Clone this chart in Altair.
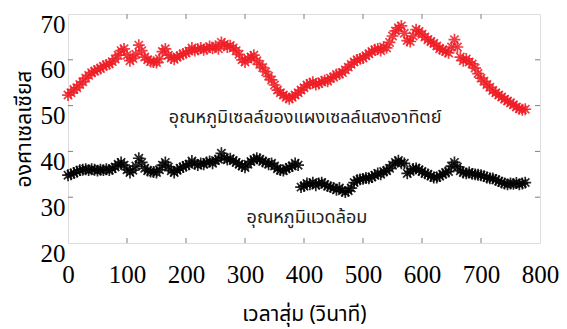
import altair as alt
import pandas as pd

# sample times (seconds)
times = [
    0, 5, 10, 15, 20, 25, 30, 35, 40, 45,
    50, 55, 60, 65, 70, 75, 80, 85, 90, 95,
    100, 105, 110, 115, 120, 125, 130, 135, 140, 145,
    150, 155, 160, 165, 170, 175, 180, 185, 190, 195,
    200, 205, 210, 215, 220, 225, 230, 235, 240, 245,
    250, 255, 260, 265, 270, 275, 280, 285, 290, 295,
    300, 305, 310, 315, 320, 325, 330, 335, 340, 345,
    350, 355, 360, 365, 370, 375, 380, 385, 390, 395,
    400, 405, 410, 415, 420, 425, 430, 435, 440, 445,
    450, 455, 460, 465, 470, 475, 480, 485, 490, 495,
    500, 505, 510, 515, 520, 525, 530, 535, 540, 545,
    550, 555, 560, 565, 570, 575, 580, 585, 590, 595,
    600, 605, 610, 615, 620, 625, 630, 635, 640, 645,
    650, 655, 660, 665, 670, 675, 680, 685, 690, 695,
    700, 705, 710, 715, 720, 725, 730, 735, 740, 745,
    750, 755, 760, 765, 770, 775,
]

# solar cell temperature (red)
cell_temp = [
    52.3, 52.8, 53.5, 53.9, 54.6, 55.2, 56.0, 56.6, 57.2, 57.5,
    57.9, 58.1, 58.6, 58.9, 59.1, 59.6, 60.2, 61.0, 62.0, 62.4,
    61.0, 59.8, 60.3, 61.2, 63.2, 62.0, 60.6, 60.0, 59.6, 59.5,
    59.4, 60.2, 61.8, 62.4, 61.0, 60.4, 60.1, 60.6, 60.9, 61.3,
    61.5, 61.9, 62.6, 62.0, 62.3, 62.6, 62.2, 62.4, 62.9, 62.5,
    63.0, 62.4, 63.8, 63.4, 62.8, 63.1, 62.6, 62.0, 61.2, 60.0,
    59.5, 60.2, 60.6, 61.0, 59.8, 59.0, 58.3, 57.4, 56.4, 55.6,
    54.5, 53.4, 52.8, 52.3, 51.8, 51.5, 51.8, 52.3, 52.8, 53.4,
    53.9, 54.5, 54.8, 55.1, 54.6, 54.8, 55.2, 55.5, 55.3, 56.0,
    56.2, 56.8, 56.9, 57.2, 57.8, 58.4, 59.0, 59.5, 60.0, 60.2,
    60.4, 60.9, 61.3, 61.8, 62.2, 62.4, 62.0, 62.8, 62.6, 63.8,
    65.2, 66.3, 67.0, 67.4, 65.8, 64.2, 64.0, 65.2, 66.6, 66.2,
    65.6, 65.0, 64.4, 64.0, 63.6, 63.0, 62.4, 62.2, 61.8, 61.5,
    62.8, 64.4, 62.8, 60.6, 59.8, 60.2, 59.5, 59.1, 58.2, 57.0,
    56.0, 55.3, 54.6, 54.0, 53.3, 52.8, 52.3, 51.9, 51.4, 51.0,
    50.6, 50.2, 49.7, 49.3, 49.1, 49.2,
]

# ambient temperature (black)
ambient_temp = [
    34.8, 35.0, 35.3, 35.6, 35.9, 36.0, 36.1, 35.9, 36.1, 36.0,
    35.8, 36.0, 35.9, 36.1, 35.9, 36.2, 36.6, 37.2, 37.6, 37.0,
    36.0, 35.4, 35.9, 36.8, 38.5, 37.6, 36.3, 35.8, 35.6, 35.5,
    35.4, 36.0, 37.0, 37.6, 36.6, 35.8, 35.4, 35.9, 36.3, 36.6,
    36.9, 37.2, 37.9, 37.3, 37.0, 37.4, 37.2, 37.6, 37.8, 37.4,
    38.0, 38.3, 39.6, 38.6, 38.2, 38.4, 38.0, 37.6, 37.2, 36.8,
    36.5, 37.2, 37.8, 38.2, 38.5, 38.3, 37.8, 37.6, 37.2, 37.4,
    36.8, 36.2, 35.9, 35.8, 36.2, 36.5, 36.8, 37.4, 37.0, 32.2,
    32.4, 33.0, 32.8, 33.2, 32.6, 33.0, 33.2, 32.8, 32.4, 32.2,
    32.0, 31.6, 32.0, 31.4, 31.1, 31.4, 32.0, 33.2, 33.7, 33.9,
    34.0, 34.2, 34.1, 34.4, 34.8, 35.2, 35.0, 35.6, 35.8, 36.3,
    37.0, 37.6, 38.0, 37.4, 37.4, 35.2, 35.6, 36.2, 36.3, 36.0,
    35.6, 35.2, 35.0, 34.6, 34.3, 34.3, 34.6, 35.0, 35.4, 35.6,
    36.8, 37.6, 36.6, 35.8, 35.4, 35.2, 35.4, 35.1, 35.0, 34.9,
    34.8, 34.6, 34.3, 34.1, 34.1, 33.8, 33.5, 33.2, 33.0, 32.8,
    33.0, 32.9, 33.1, 32.8, 33.0, 33.2,
]

assert len(times) == len(cell_temp) == len(ambient_temp)

x_ticks = [0, 100, 200, 300, 400, 500, 600, 700, 800]
y_ticks = [20, 30, 40, 50, 60, 70]

label_texts = ["อุณหภูมิเซลล์ของแผงเซลล์แสงอาทิตย์", "อุณหภูมิแวดล้อม"]
label_x = [402, 405]
label_y = [47.2, 25.4]

x_title = "เวลาสุ่ม (วินาที)"
y_title = "องศาเซลเซียส"

thai_font = "Noto Sans Thai, Noto Serif Thai, Loma, Garuda, Noto Sans, DejaVu Sans"
num_font = "Liberation Serif, DejaVu Serif, Noto Serif, Times, serif"

asterisk = "M-1,0L1,0M0,-1L0,1M-0.7,-0.7L0.7,0.7M-0.7,0.7L0.7,-0.7"

df = pd.DataFrame({"t": times, "cell": cell_temp, "amb": ambient_temp})
lab = pd.DataFrame({"text": label_texts, "x": label_x, "y": label_y})

xs = alt.Scale(domain=[0, 800], nice=False)
ys = alt.Scale(domain=[20, 70], nice=False)

x_axis = alt.Axis(values=x_ticks, title=x_title, labelFont=num_font, labelFontSize=25,
                  labelColor="black", labelPadding=19, labelFlush=False, titleFont=thai_font,
                  titleFontSize=21, titleFontWeight="normal", titleColor="black",
                  titlePadding=16, domain=False, ticks=False, grid=False)
y_axis = alt.Axis(values=y_ticks, title=y_title, labelFont=num_font, labelFontSize=25,
                  labelColor="black", labelPadding=3, labelBaseline="top", labelOffset=-2,
                  labelFlush=False, titleFont=thai_font,
                  titleFontSize=21, titleFontWeight="normal", titleColor="black",
                  titlePadding=6, domain=False, ticks=False, grid=False)

red = alt.Chart(df).mark_point(shape=asterisk, filled=False, size=140, strokeWidth=1.7,
                               color="#ee1c24", opacity=0.85).encode(
    x=alt.X("t:Q", scale=xs, axis=x_axis),
    y=alt.Y("cell:Q", scale=ys, axis=y_axis),
)
black = alt.Chart(df).mark_point(shape=asterisk, filled=False, size=140, strokeWidth=1.7,
                                 color="#000000", opacity=0.85).encode(
    x=alt.X("t:Q", scale=xs),
    y=alt.Y("amb:Q", scale=ys),
)

xt = pd.DataFrame({"v": x_ticks[1:-1]})
yt = pd.DataFrame({"v": y_ticks[1:-1]})
tick_color = "#808080"
bot_ticks = alt.Chart(xt).mark_rule(color=tick_color, strokeWidth=1).encode(
    x=alt.X("v:Q", scale=xs), y=alt.value(229), y2=alt.value(224))
top_ticks = alt.Chart(xt).mark_rule(color=tick_color, strokeWidth=1).encode(
    x=alt.X("v:Q", scale=xs), y=alt.value(0), y2=alt.value(5))
left_ticks = alt.Chart(yt).mark_rule(color=tick_color, strokeWidth=1).encode(
    y=alt.Y("v:Q", scale=ys), x=alt.value(0), x2=alt.value(5))
right_ticks = alt.Chart(yt).mark_rule(color=tick_color, strokeWidth=1).encode(
    y=alt.Y("v:Q", scale=ys), x=alt.value(472), x2=alt.value(467))

texts = alt.Chart(lab).mark_text(font=thai_font, fontSize=18, color="#222222",
                                 align="center", baseline="middle").encode(
    x=alt.X("x:Q", scale=xs), y=alt.Y("y:Q", scale=ys), text="text:N")

chart = alt.layer(red, black, bot_ticks, top_ticks, left_ticks, right_ticks, texts).properties(
    width=472, height=229,
    autosize=alt.AutoSizeParams(type="none"),
    padding={"left": 60, "top": 6, "right": 19, "bottom": 86},
).configure_view(stroke="#8c8c8c", strokeWidth=1.2).configure(background="white")

chart.save("out.html", embed_options={"renderer": "svg", "actions": False})
